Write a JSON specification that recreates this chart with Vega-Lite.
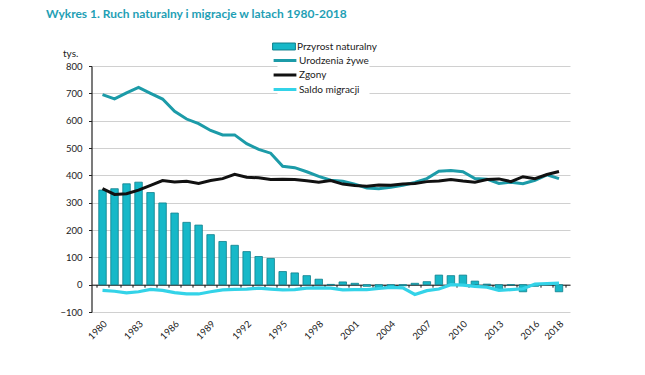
{
  "$schema": "https://vega.github.io/schema/vega-lite/v6.json",
  "width": 478.5,
  "height": 246,
  "autosize": {"type": "none"},
  "padding": {"left": 91.5, "top": 66, "right": 75, "bottom": 63},
  "background": "white",
  "title": {
    "text": "Wykres 1. Ruch naturalny i migracje w latach 1980-2018",
    "anchor": "start",
    "frame": "group",
    "dx": -45.5,
    "offset": 19,
    "font": "Lato",
    "fontSize": 12,
    "fontWeight": "bold",
    "color": "#1f9fb5"
  },
  "config": {
    "view": {"stroke": null},
    "font": "Lato",
    "axisY": {
      "values": [-100, 0, 100, 200, 300, 400, 500, 600, 700, 800],
      "domain": true,
      "domainColor": "#222222",
      "domainWidth": 1.2,
      "ticks": true,
      "tickColor": "#222222",
      "tickSize": 3,
      "grid": true,
      "gridColor": "#d0d0d0",
      "gridWidth": 1,
      "labelPadding": 6.5,
      "labelFontSize": 9.5,
      "labelColor": "#222222",
      "labelFont": "Lato",
      "titleAngle": 0,
      "titleX": -29,
      "titleY": -13,
      "titleAlign": "left",
      "titleBaseline": "middle",
      "titleFontWeight": "normal",
      "titleFontSize": 10,
      "titleColor": "#222222",
      "titleFont": "Lato"
    }
  },
  "data": {
    "values": [
      {"year": 1980, "p": 346, "u": 695, "z": 351, "m": -21},
      {"year": 1981, "p": 351, "u": 680, "z": 330, "m": -24},
      {"year": 1982, "p": 369, "u": 702, "z": 333, "m": -30},
      {"year": 1983, "p": 375, "u": 722, "z": 346, "m": -26},
      {"year": 1984, "p": 337, "u": 700, "z": 363, "m": -17},
      {"year": 1985, "p": 299, "u": 679, "z": 381, "m": -21},
      {"year": 1986, "p": 262, "u": 634, "z": 376, "m": -29},
      {"year": 1987, "p": 228, "u": 606, "z": 378, "m": -34},
      {"year": 1988, "p": 218, "u": 589, "z": 370, "m": -34},
      {"year": 1989, "p": 183, "u": 564, "z": 381, "m": -26},
      {"year": 1990, "p": 158, "u": 548, "z": 388, "m": -19},
      {"year": 1991, "p": 144, "u": 548, "z": 404, "m": -17},
      {"year": 1992, "p": 121, "u": 516, "z": 393, "m": -16},
      {"year": 1993, "p": 103, "u": 495, "z": 391, "m": -13},
      {"year": 1994, "p": 96, "u": 481, "z": 385, "m": -16},
      {"year": 1995, "p": 48, "u": 433, "z": 386, "m": -19},
      {"year": 1996, "p": 43, "u": 428, "z": 385, "m": -18},
      {"year": 1997, "p": 33, "u": 413, "z": 380, "m": -13},
      {"year": 1998, "p": 20, "u": 396, "z": 375, "m": -12},
      {"year": 1999, "p": 1, "u": 382, "z": 381, "m": -13},
      {"year": 2000, "p": 10, "u": 378, "z": 368, "m": -19},
      {"year": 2001, "p": 5, "u": 368, "z": 363, "m": -18},
      {"year": 2002, "p": -6, "u": 354, "z": 360, "m": -18},
      {"year": 2003, "p": -14, "u": 351, "z": 365, "m": -14},
      {"year": 2004, "p": -7, "u": 356, "z": 364, "m": -10},
      {"year": 2005, "p": -4, "u": 364, "z": 368, "m": -12},
      {"year": 2006, "p": 5, "u": 374, "z": 370, "m": -36},
      {"year": 2007, "p": 11, "u": 388, "z": 377, "m": -22},
      {"year": 2008, "p": 35, "u": 415, "z": 379, "m": -16},
      {"year": 2009, "p": 33, "u": 418, "z": 385, "m": 0},
      {"year": 2010, "p": 35, "u": 413, "z": 379, "m": -2},
      {"year": 2011, "p": 13, "u": 388, "z": 375, "m": -6},
      {"year": 2012, "p": 2, "u": 386, "z": 385, "m": -9},
      {"year": 2013, "p": -18, "u": 370, "z": 387, "m": -21},
      {"year": 2014, "p": -1, "u": 375, "z": 377, "m": -18},
      {"year": 2015, "p": -26, "u": 369, "z": 395, "m": -15},
      {"year": 2016, "p": -6, "u": 382, "z": 388, "m": 2},
      {"year": 2017, "p": 1, "u": 402, "z": 403, "m": 4},
      {"year": 2018, "p": -26, "u": 388, "z": 414, "m": 6}
    ]
  },
  "layer": [
    {
      "mark": {"type": "bar", "size": 7.5, "stroke": "#0e7f8c", "strokeWidth": 0.8},
      "encoding": {
        "x": {
          "field": "year",
          "type": "quantitative",
          "scale": {"domain": [1979.5, 2018.5], "nice": false, "zero": false},
          "axis": {
            "orient": "bottom",
            "offset": -27.33,
            "values": [1979.5, 1980.5, 1981.5, 1982.5, 1983.5, 1984.5, 1985.5, 1986.5, 1987.5, 1988.5, 1989.5, 1990.5, 1991.5, 1992.5, 1993.5, 1994.5, 1995.5, 1996.5, 1997.5, 1998.5, 1999.5, 2000.5, 2001.5, 2002.5, 2003.5, 2004.5, 2005.5, 2006.5, 2007.5, 2008.5, 2009.5, 2010.5, 2011.5, 2012.5, 2013.5, 2014.5, 2015.5, 2016.5, 2017.5, 2018.5],
            "domain": true,
            "domainColor": "#111111",
            "domainWidth": 1,
            "ticks": true,
            "tickColor": "#111111",
            "tickSize": 2.5,
            "labels": false,
            "grid": false,
            "title": null
          }
        },
        "y": {
          "field": "p",
          "type": "quantitative",
          "title": "tys.",
          "scale": {"domain": [-100, 800], "nice": false, "zero": false}
        },
        "fill": {
          "datum": "Przyrost naturalny",
          "scale": {"range": ["#17b8c8"]},
          "legend": {
            "orient": "none",
            "legendX": 186,
            "legendY": -26,
            "title": null,
            "symbolType": "M-1.9,-0.58H1.9V0.58H-1.9Z",
            "symbolSize": 144,
            "symbolStrokeColor": "#0e7f8c",
            "symbolStrokeWidth": 1,
            "labelFontSize": 10,
            "labelFont": "Lato",
            "labelColor": "#222222",
            "labelOffset": 6.5,
            "padding": 0,
            "fillColor": "white"
          }
        }
      }
    },
    {
      "mark": {"type": "line", "strokeWidth": 3},
      "encoding": {
        "x": {
          "field": "year",
          "type": "quantitative",
          "axis": {
            "orient": "bottom",
            "values": [1980, 1983, 1986, 1989, 1992, 1995, 1998, 2001, 2004, 2007, 2010, 2013, 2016, 2018],
            "format": "d",
            "domain": false,
            "ticks": false,
            "tickSize": 0,
            "grid": false,
            "labelAngle": -45,
            "labelAlign": "right",
            "labelBaseline": "middle",
            "labelPadding": 10,
            "labelOffset": 2.5,
            "labelFontSize": 9.5,
            "labelFont": "Lato",
            "labelColor": "#222222",
            "title": null
          }
        },
        "y": {"field": "u", "type": "quantitative", "title": "tys."},
        "stroke": {
          "datum": "Urodzenia żywe",
          "scale": {
            "domain": ["Urodzenia żywe", "Zgony", "Saldo migracji"],
            "range": ["#1c9ba8", "#111111", "#33d3e8"]
          },
          "legend": {
            "orient": "none",
            "legendX": 186,
            "legendY": -13,
            "title": null,
            "symbolType": "M-1.9,0H1.9",
            "symbolSize": 144,
            "symbolStrokeWidth": 3,
            "labelFontSize": 10,
            "labelFont": "Lato",
            "labelColor": "#222222",
            "labelOffset": 6.5,
            "rowPadding": 0.5,
            "padding": 0,
            "fillColor": "white"
          }
        }
      }
    },
    {
      "mark": {"type": "line", "strokeWidth": 3},
      "encoding": {
        "x": {"field": "year", "type": "quantitative", "axis": null},
        "y": {"field": "z", "type": "quantitative", "title": "tys."},
        "stroke": {"datum": "Zgony"}
      }
    },
    {
      "mark": {"type": "line", "strokeWidth": 3.2},
      "encoding": {
        "x": {"field": "year", "type": "quantitative", "axis": null},
        "y": {"field": "m", "type": "quantitative", "title": "tys."},
        "stroke": {"datum": "Saldo migracji"}
      }
    }
  ],
  "resolve": {"axis": {"x": "independent"}}
}
